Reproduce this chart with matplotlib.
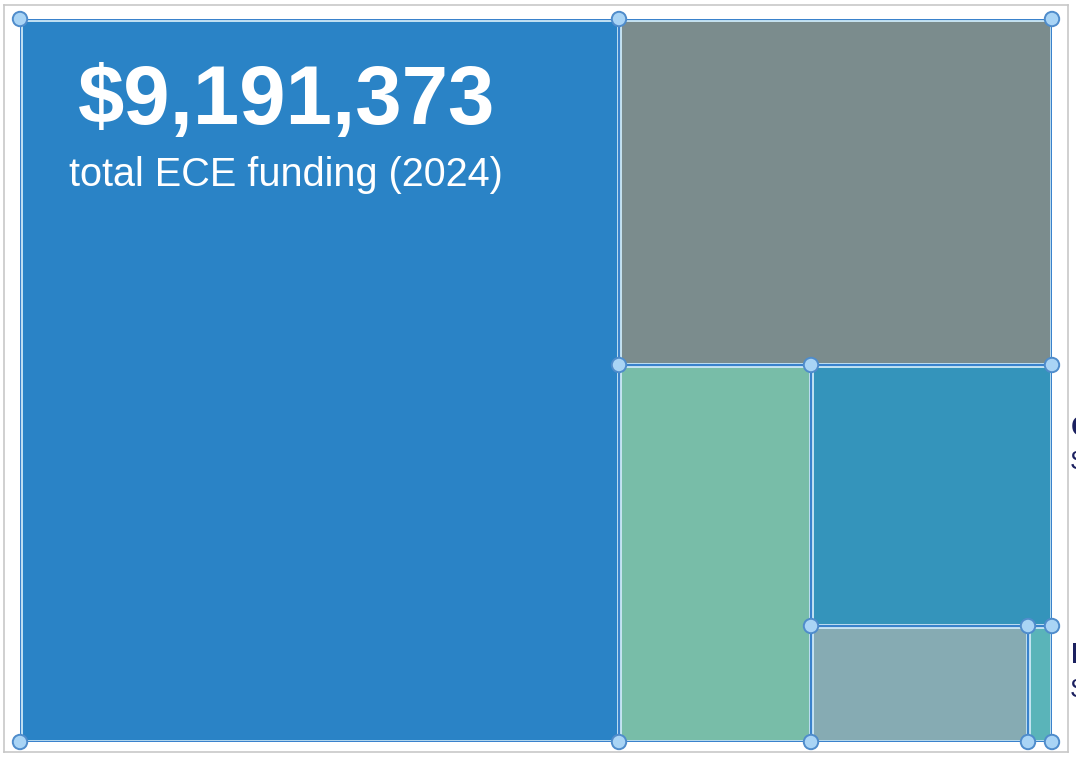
import matplotlib.pyplot as plt
from matplotlib.patches import Rectangle, Circle

plt.rcParams['font.family'] = ['Liberation Sans', 'DejaVu Sans']

# ECE funding sources, 2024 (dollars)
categories = ['State pre-K', 'Federal Head Start', 'Local levy', 'Child care subsidies',
              'Tuition & fees', 'Infant/toddler grants']
values = [5335000, 1845700, 891700, 774900, 310100, 34300]
colors = ['#2A83C6', '#7B8C8D', '#78BDA8', '#3494BB', '#86ABB3', '#5AB4B9']
total_label = '$9,191,373'
subtitle = 'total ECE funding (2024)'


def worst(row, side):
    s = sum(row)
    return max(max(side * side * r / (s * s), s * s / (side * side * r)) for r in row)


def squarify(areas, x, y, w, h):
    """Squarified treemap: returns (x, y, w, h) for each area, y grows downward."""
    rects = []
    areas = list(areas)
    while areas:
        side = min(w, h)
        row = [areas.pop(0)]
        while areas and worst(row + [areas[0]], side) <= worst(row, side):
            row.append(areas.pop(0))
        s = sum(row)
        if w >= h:
            cw = s / h
            cy = y
            for a in row:
                rects.append((x, cy, cw, a / cw))
                cy += a / cw
            x += cw
            w -= cw
        else:
            rh = s / w
            cx = x
            for a in row:
                rects.append((cx, y, a / rh, rh))
                cx += a / rh
            y += rh
            h -= rh
    return rects


W, H = 1032.0, 723.0
scale = W * H / sum(values)
rects = squarify([v * scale for v in values], 0, 0, W, H)

fig = plt.figure(figsize=(10.76, 7.57), dpi=100)
fig.patch.set_facecolor('white')

# light frame round the whole slide area
frame = fig.add_axes([4 / 1076, 5 / 757, 1064 / 1076, 747 / 757])
frame.set_xticks([])
frame.set_yticks([])
for sp in frame.spines.values():
    sp.set_color('#C8C8C8')
    sp.set_linewidth(1.2)

ax = fig.add_axes([20 / 1076, 15 / 757, W / 1076, H / 757])
ax.set_xlim(0, W)
ax.set_ylim(H, 0)
ax.axis('off')

corners = set()
for (x, y, w, h), c in zip(rects, colors):
    ax.add_patch(Rectangle((x, y), w, h, facecolor=c, edgecolor='#CBE8F6', linewidth=3.5))
    ax.add_patch(Rectangle((x, y), w, h, facecolor='none', edgecolor='#3A82CC', linewidth=1.6))
    for cx, cy in [(x, y), (x + w, y), (x, y + h), (x + w, y + h)]:
        corners.add((round(cx, 1), round(cy, 1)))

# selection handles at shape corners
for cx, cy in corners:
    ax.add_patch(Circle((cx, cy), 7.2, facecolor='#A9D4F5', edgecolor='#4F8CCB',
                        linewidth=1.4, clip_on=False, zorder=5))

bx, by, bw, bh = rects[0]
ax.text(bx + 267, by + 83, total_label, color='white', fontsize=60, fontweight='bold',
        ha='center', va='center')
ax.text(bx + 266, by + 156, subtitle, color='white', fontsize=28.5, ha='center', va='center')

# callout labels sitting to the right of the chart
for i, ty in [(3, 395), (5, 622)]:
    ax.text(W + 19, ty, categories[i], color='#1C2160', fontsize=21, fontweight='bold',
            ha='left', va='top', clip_on=False)
    ax.text(W + 19, ty + 36, '${:,}'.format(values[i]), color='#1C2160', fontsize=19,
            ha='left', va='top', clip_on=False)

fig.savefig('out.png', dpi=100)
